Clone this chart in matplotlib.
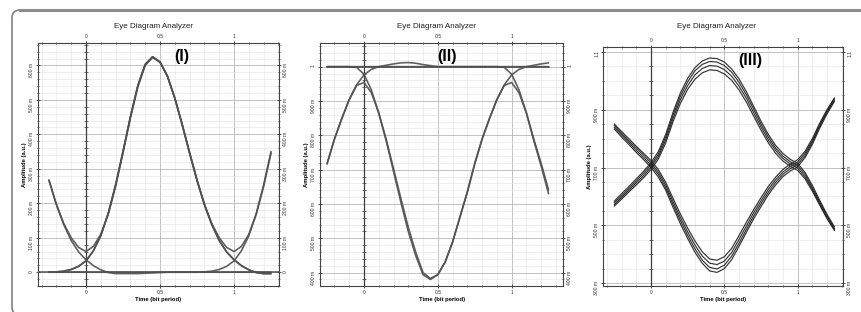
import matplotlib
matplotlib.use("Agg")
import matplotlib.pyplot as plt
from matplotlib.ticker import MultipleLocator
from matplotlib.patches import FancyBboxPatch
from matplotlib.lines import Line2D

plt.rcParams['font.family'] = ['Liberation Sans', 'DejaVu Sans']

# time axis shared by every trace (bit periods)
t_grid = [-0.25, -0.20, -0.15, -0.10, -0.05, 0.00, 0.05, 0.10, 0.15, 0.20,
          0.25, 0.30, 0.35, 0.40, 0.45, 0.50, 0.55, 0.60, 0.65, 0.70,
          0.75, 0.80, 0.85, 0.90, 0.95, 1.00, 1.05, 1.10, 1.15, 1.20, 1.25]

x_ticks = [0, 0.5, 1]
x_ticklabels = ["0", "0.5", "1"]

# panel (I): pulses on a zero level
i_flat_t = [-0.33, 1.31]
i_flat = [0.0, 0.0]
i_main = [0.000, 0.001, 0.003, 0.008, 0.017, 0.033, 0.062, 0.106, 0.170, 0.253,
          0.350, 0.451, 0.541, 0.603, 0.625, 0.610, 0.569, 0.505, 0.428, 0.346,
          0.267, 0.196, 0.138, 0.092, 0.059, 0.036, 0.019, 0.007, -0.001, -0.004, -0.004]
i_prev = [0.267, 0.196, 0.138, 0.092, 0.059, 0.036, 0.019, 0.007, -0.001, -0.004,
          -0.004, -0.004, -0.004, -0.003, -0.002, -0.001, 0.0, 0.0, 0.0, 0.0,
          0.0, 0.0, 0.0, 0.0, 0.0, 0.0, 0.0, 0.0, 0.0, 0.0, 0.0]
i_next = [0.0, 0.0, 0.0, 0.0, 0.0, 0.0, 0.0, 0.0, 0.0, 0.0,
          0.0, 0.0, 0.0, 0.0, 0.0, 0.0, 0.0, 0.0, 0.0, 0.0,
          0.000, 0.001, 0.003, 0.008, 0.017, 0.033, 0.062, 0.106, 0.170, 0.253, 0.350]
i_prev_main = [0.267, 0.197, 0.141, 0.100, 0.072, 0.060, 0.075, 0.110, 0.168, 0.249,
               0.346, 0.447, 0.537, 0.600, 0.623, 0.609, 0.569, 0.505, 0.428, 0.346,
               0.267, 0.196, 0.138, 0.092, 0.059, 0.036, 0.019, 0.007, -0.001, -0.004, -0.004]
i_main_next = [0.000, 0.001, 0.003, 0.008, 0.017, 0.033, 0.062, 0.106, 0.170, 0.253,
               0.350, 0.451, 0.541, 0.603, 0.625, 0.610, 0.569, 0.505, 0.428, 0.346,
               0.267, 0.197, 0.141, 0.100, 0.072, 0.060, 0.075, 0.110, 0.168, 0.249, 0.346]
i_yticks = [0, 0.1, 0.2, 0.3, 0.4, 0.5, 0.6]
i_ylabels = ["0", "100 m", "200 m", "300 m", "400 m", "500 m", "600 m"]

# panel (II): dips from the one level
ii_flat_t = [-0.25, 1.25]
ii_flat = [1.0, 1.0]
ii_main = [1.000, 1.000, 1.000, 1.000, 0.998, 0.978, 0.932, 0.865, 0.785, 0.695,
           0.605, 0.520, 0.450, 0.394, 0.380, 0.394, 0.431, 0.489, 0.562, 0.635,
           0.717, 0.789, 0.849, 0.904, 0.947, 0.976, 0.992, 1.000, 1.004, 1.008, 1.011]
ii_prev = [0.717, 0.789, 0.849, 0.904, 0.947, 0.976, 0.992, 1.000, 1.004, 1.008,
           1.011, 1.012, 1.010, 1.006, 1.003, 1.000, 1.000, 1.000, 1.000, 1.000,
           1.000, 1.000, 1.000, 1.000, 1.000, 1.000, 1.000, 1.000, 1.000, 1.000, 1.000]
ii_next = [1.000, 1.000, 1.000, 1.000, 1.000, 1.000, 1.000, 1.000, 1.000, 1.000,
           1.000, 1.000, 1.000, 1.000, 1.000, 1.000, 1.000, 1.000, 1.000, 1.000,
           1.000, 1.000, 1.000, 1.000, 0.998, 0.978, 0.932, 0.865, 0.785, 0.710, 0.630]
ii_all_low = [0.717, 0.789, 0.849, 0.904, 0.945, 0.954, 0.924, 0.865, 0.789, 0.703,
              0.616, 0.532, 0.460, 0.400, 0.383, 0.394, 0.431, 0.489, 0.562, 0.635,
              0.717, 0.789, 0.849, 0.904, 0.945, 0.954, 0.924, 0.865, 0.789, 0.718, 0.641]
ii_yticks = [0.4, 0.5, 0.6, 0.7, 0.8, 0.9, 1.0]
ii_ylabels = ["400 m", "500 m", "600 m", "700 m", "800 m", "900 m", "1"]

# panel (III): bundles of rising and falling traces
iii_b0 = [0.584, 0.610, 0.635, 0.661, 0.687, 0.717, 0.755, 0.814, 0.890, 0.957,
          1.008, 1.045, 1.068, 1.078, 1.076, 1.064, 1.040, 1.006, 0.962, 0.911,
          0.860, 0.814, 0.776, 0.748, 0.728, 0.714, 0.683, 0.638, 0.587, 0.538, 0.496]
iii_b1 = [0.578, 0.603, 0.628, 0.654, 0.680, 0.709, 0.746, 0.805, 0.880, 0.946,
          0.996, 1.034, 1.056, 1.066, 1.064, 1.052, 1.029, 0.994, 0.951, 0.901,
          0.850, 0.805, 0.767, 0.739, 0.720, 0.706, 0.676, 0.631, 0.581, 0.533, 0.490]
iii_b2 = [0.572, 0.597, 0.622, 0.647, 0.672, 0.701, 0.738, 0.795, 0.869, 0.934,
          0.983, 1.020, 1.042, 1.052, 1.050, 1.038, 1.015, 0.981, 0.939, 0.889,
          0.840, 0.795, 0.759, 0.731, 0.712, 0.698, 0.668, 0.625, 0.575, 0.528, 0.486]
iii_b3 = [0.567, 0.591, 0.616, 0.640, 0.665, 0.693, 0.729, 0.785, 0.858, 0.921,
          0.970, 1.005, 1.027, 1.037, 1.035, 1.023, 1.001, 0.968, 0.926, 0.877,
          0.829, 0.785, 0.749, 0.722, 0.704, 0.690, 0.661, 0.618, 0.570, 0.523, 0.483]
iii_a0 = [0.833, 0.805, 0.779, 0.752, 0.727, 0.700, 0.667, 0.622, 0.563, 0.506,
          0.455, 0.407, 0.369, 0.343, 0.338, 0.351, 0.382, 0.428, 0.476, 0.523,
          0.565, 0.606, 0.640, 0.669, 0.688, 0.703, 0.734, 0.780, 0.836, 0.885, 0.928]
iii_a1 = [0.839, 0.812, 0.786, 0.759, 0.734, 0.708, 0.676, 0.630, 0.573, 0.517,
          0.466, 0.419, 0.380, 0.355, 0.350, 0.363, 0.394, 0.439, 0.486, 0.533,
          0.575, 0.615, 0.649, 0.677, 0.696, 0.711, 0.741, 0.787, 0.842, 0.891, 0.933]
iii_a2 = [0.845, 0.818, 0.792, 0.767, 0.742, 0.716, 0.684, 0.640, 0.583, 0.528,
          0.478, 0.432, 0.394, 0.370, 0.365, 0.377, 0.407, 0.452, 0.498, 0.544,
          0.585, 0.625, 0.658, 0.685, 0.704, 0.719, 0.749, 0.793, 0.848, 0.895, 0.937]
iii_a3 = [0.850, 0.824, 0.799, 0.773, 0.749, 0.724, 0.693, 0.649, 0.594, 0.540,
          0.491, 0.446, 0.409, 0.384, 0.380, 0.392, 0.421, 0.465, 0.511, 0.555,
          0.596, 0.635, 0.667, 0.694, 0.712, 0.727, 0.756, 0.800, 0.853, 0.900, 0.940]
iii_yticks = [0.3, 0.5, 0.7, 0.9, 1.1]
iii_ylabels = ["300 m", "500 m", "700 m", "900 m", "1.1"]


def style_axes(ax, xlim, ylim, yticks, ylabels, yminor):
    ax.set_xlim(*xlim)
    ax.set_ylim(*ylim)
    ax.set_xticks(x_ticks)
    ax.set_xticklabels(x_ticklabels)
    ax.xaxis.set_minor_locator(MultipleLocator(0.1))
    ax.set_yticks(yticks)
    ax.set_yticklabels(ylabels)
    ax.yaxis.set_minor_locator(MultipleLocator(yminor))
    ax.tick_params(which='both', direction='inout', top=True, right=True,
                   labeltop=True, labelright=True, labelsize=3.6, pad=1.5,
                   color='#333333', labelcolor='#333333')
    ax.tick_params(which='major', length=3, width=0.6)
    ax.tick_params(which='minor', length=2, width=0.5)
    ax.tick_params(axis='y', labelrotation=90)
    ax.grid(which='major', color='#b8b8b8', lw=0.6)
    ax.grid(which='minor', color='#e4e4e4', lw=0.4)
    ax.set_axisbelow(True)
    for s in ax.spines.values():
        s.set_color('#444444')
        s.set_linewidth(0.8)
    ax.set_xlabel('Time (bit period)', fontsize=4.2, fontweight='bold', labelpad=1.5)
    ax.set_ylabel('Amplitude (a.u.)', fontsize=4.2, fontweight='bold', labelpad=1.5)

    # the darker t = 0 marker line with its little ticks
    ax.axvline(0, color='#3c3c3c', lw=0.9, zorder=1.5)
    ys = ax.yaxis.get_minorticklocs()
    ax.plot([0] * len(ys), ys, ls='none', marker='_', ms=2.5, mew=0.5,
            color='#3c3c3c', zorder=1.5)


fig = plt.figure(figsize=(8.62, 3.12), dpi=100)

# rounded frame round the whole picture (right and bottom run off the edge)
frame = FancyBboxPatch((0.12, -0.03), 9.3, 3.05,
                       boxstyle="round,pad=0,rounding_size=0.08",
                       transform=fig.dpi_scale_trans, fill=False,
                       edgecolor='#808080', lw=1.2)
fig.add_artist(frame)
fig.add_artist(Line2D([0.2, 8.7], [3.02, 3.02], transform=fig.dpi_scale_trans,
                      color='#8c8c8c', lw=2.2))

ax1 = fig.add_axes([0.0441, 0.0833, 0.2796, 0.7789])
ax2 = fig.add_axes([0.3712, 0.0833, 0.2823, 0.7779])
ax3 = fig.add_axes([0.6999, 0.0833, 0.2781, 0.7670])

style_axes(ax1, (-0.324, 1.304), (-0.04, 0.665), i_yticks, i_ylabels, 0.02)
style_axes(ax2, (-0.298, 1.35), (0.361, 1.068), ii_yticks, ii_ylabels, 0.02)
style_axes(ax3, (-0.325, 1.309), (0.291, 1.117), iii_yticks, iii_ylabels, 0.05)

line_kw = dict(color='#505050', lw=1.2, alpha=0.9, solid_capstyle='round', zorder=3)
ax1.plot(i_flat_t, i_flat, **line_kw)
for tr in [i_prev, i_next, i_main, i_prev_main, i_main_next]:
    ax1.plot(t_grid, tr, **line_kw)

ax2.plot(ii_flat_t, ii_flat, **line_kw)
for tr in [ii_prev, ii_next, ii_main, ii_all_low]:
    ax2.plot(t_grid, tr, **line_kw)

for tr in [iii_b0, iii_b1, iii_b2, iii_b3, iii_a0, iii_a1, iii_a2, iii_a3]:
    ax3.plot(t_grid, tr, color='#1e1e1e', lw=0.85, alpha=0.9, zorder=3)

for ax, tag, xf in [(ax1, "(I)", 0.596), (ax2, "(II)", 0.52), (ax3, "(III)", 0.611)]:
    ax.text(xf, 0.944, tag, transform=ax.transAxes, ha='center', va='center',
            fontsize=11.5, fontweight='bold', color='black', zorder=5)

for xc in [0.1775, 0.5066, 0.8314]:
    fig.text(xc, 1 - 27 / 312, "Eye Diagram Analyzer", ha='center', va='center',
             fontsize=5.8, color='#222222')

fig.savefig('out.png', dpi=100)
